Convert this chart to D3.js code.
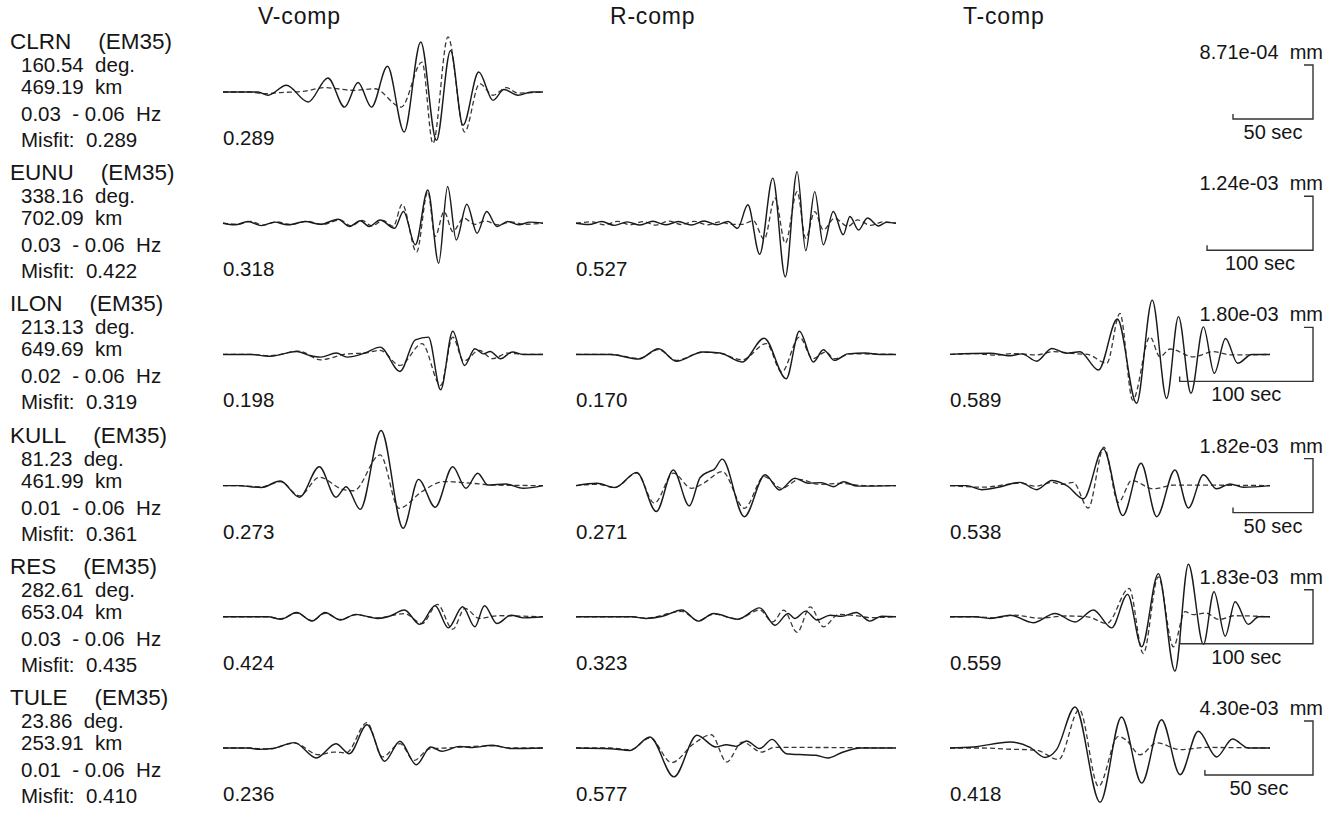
<!DOCTYPE html>
<html>
<head>
<meta charset="utf-8">
<script src="https://cdn.jsdelivr.net/npm/d3@7"></script>
<style>
  html, body { margin: 0; padding: 0; background: #fff; }
  svg { display: block; font-family: "Liberation Sans", Arial, Helvetica, sans-serif; }
  text { white-space: pre; fill: #151515; }
  .obs { fill: none; stroke: #1a1a1a; stroke-width: 1.45; }
  .syn { fill: none; stroke: #383838; stroke-width: 1.3; stroke-dasharray: 5 3; }
  .bar { fill: none; stroke: #333; stroke-width: 1.4; }
</style>
</head>
<body>
<div id="chart"></div>
<script>
const components = ["V-comp", "R-comp", "T-comp"];
const stations = ["CLRN", "EUNU", "ILON", "KULL", "RES", "TULE"];
const azimuths = ["160.54", "338.16", "213.13", "81.23", "282.61", "23.86"];
const distances = ["469.19", "702.09", "649.69", "461.99", "653.04", "253.91"];
const bandLow = ["0.03", "0.03", "0.02", "0.01", "0.03", "0.01"];
const bandHigh = ["0.06", "0.06", "0.06", "0.06", "0.06", "0.06"];
const misfits = ["0.289", "0.422", "0.319", "0.361", "0.435", "0.410"];
const panelMisfits = [
  ["0.289", null, null],
  ["0.318", "0.527", null],
  ["0.198", "0.170", "0.589"],
  ["0.273", "0.271", "0.538"],
  ["0.424", "0.323", "0.559"],
  ["0.236", "0.577", "0.418"],
];
const scaleAmps = ["8.71e-04", "1.24e-03", "1.80e-03", "1.82e-03", "1.83e-03", "4.30e-03"];
const scaleSecs = [50, 100, 100, 50, 100, 50];
const windowSecs = [200, 302, 240, 200, 240, 148];

// [time in % of window, amplitude in half scale-bar units]
const vObs = [
  [[0,0],[10.9,0],[14.1,-0.12],[19.8,0.25],[26.6,-0.37],[32.8,0.52],[38,-0.56],[42.2,0.35],[46.4,-0.56],[51.4,0.95],[56.6,-1.48],[61.8,1.85],[66.7,-1.79],[71.1,1.54],[75,-1.23],[79.9,0.74],[84.4,-0.31],[87.8,0.09],[92.2,-0.12],[96.4,0],[100,0]],
  [[0,0],[3.7,-0.06],[7.8,0.06],[12,-0.09],[16.1,0.04],[20.2,-0.06],[25.7,0.06],[30.5,-0.04],[36,0.15],[39.5,-0.12],[42.9,0.09],[45.7,-0.12],[49.1,0.12],[53.6,-0.19],[56.4,0.43],[60.1,-0.8],[64,1.23],[67.4,-1.48],[70.2,1.36],[72.9,-0.62],[76.2,0.7],[79.4,-0.37],[82.4,0.43],[85.6,-0.12],[89,0.06],[92.4,-0.06],[95.9,0.04],[100,0]],
  [[0,0],[8.5,0],[14.7,-0.07],[23,0.11],[27.1,-0.04],[30.5,-0.1],[35.4,0.05],[38.8,-0.1],[44.3,0.05],[49.1,0.27],[55.3,-0.63],[60.1,0.54],[64.2,0.64],[68,-1.31],[71.8,0.86],[75.5,-0.41],[78.7,0.21],[81.4,0.02],[83.5,0.11],[86.7,-0.16],[90.4,0.09],[93.8,0],[100,0]],
  [[0,0],[4.4,0],[12,-0.07],[17.9,0.17],[23.9,-0.43],[30.1,0.7],[35.3,-0.43],[38.5,-0.04],[42.9,-0.88],[49.4,2.04],[56.3,-1.58],[61.1,0.23],[66.3,-0.8],[71.8,0.7],[75.9,-0.1],[79.6,0.46],[82.8,0.02],[88.3,0.06],[93.8,-0.1],[100,0]],
  [[0,0],[14,0],[18.1,-0.09],[23,0.16],[27.8,-0.16],[31.9,0.16],[36.7,-0.12],[41.5,0.09],[48.4,-0.06],[52,0.02],[56.7,0.25],[61.5,-0.28],[66.3,0.41],[70.4,-0.41],[74.9,0.37],[78.7,-0.37],[81.7,0.41],[85.6,-0.25],[90,0.06],[94,-0.04],[100,0]],
  [[0,0],[8,0],[11.3,-0.05],[15.5,-0.02],[22.3,0.2],[29.2,-0.37],[35.3,0.16],[39.5,-0.21],[45,0.86],[50.5,-0.49],[55.3,0.25],[60.4,-0.62],[64.9,0.04],[68.4,-0.12],[74,0.06],[78,0.02],[84.2,0.1],[90,-0.02],[100,0]],
];
const vSyn = [
  [[0,0],[8,0],[13,-0.06],[18,-0.02],[25,0.02],[31.8,0.16],[41.1,0.06],[47.4,0.12],[55.7,-0.56],[62.2,1.11],[65.6,-1.91],[70.3,2.04],[75.5,-1.48],[80.2,0.31],[84.4,-0.12],[88.5,0.16],[92.2,-0.04],[100,0]],
  [[0,0],[4.5,-0.04],[8.5,0.07],[12.5,-0.07],[17,0.05],[21,-0.05],[26.5,0.07],[31,-0.05],[36.5,0.12],[40,-0.1],[43.5,0.1],[46.5,-0.1],[50,0.1],[53.2,-0.12],[56,0.7],[60.5,-1.07],[64,1.17],[66.3,-0.49],[69.1,0.43],[71.8,-0.31],[75.2,0.19],[78.7,-0.04],[82,0.08],[86,-0.06],[90,0.05],[94,-0.04],[100,0]],
  [[0,0],[8.5,0],[14.7,-0.05],[23.7,0.12],[30.5,-0.2],[38.8,0.02],[44.3,0.05],[49.1,0.15],[55.3,-0.41],[62.2,0.4],[68,-1.15],[71.8,0.64],[75.2,-0.25],[80.1,0.15],[84.2,-0.16],[89,0.05],[94,0],[100,0]],
  [[0,0],[4.4,0],[12,-0.05],[17.9,0.15],[23.9,-0.38],[30.1,0.31],[37.4,-0.14],[40.9,-0.19],[49.1,1.14],[55,-0.84],[62.2,-0.22],[69.1,0.15],[77.3,0.09],[85,0.02],[100,0]],
  [[0,0],[14,0],[18.1,-0.07],[23,0.14],[27.8,-0.14],[31.9,0.13],[36.7,-0.1],[41.5,0.07],[48.4,-0.04],[56.7,0.12],[62.2,-0.25],[67,0.46],[71.8,-0.46],[75.6,0.31],[80.1,-0.06],[86,0.04],[100,0]],
  [[0,0],[8,0],[14,-0.04],[22.3,0.18],[29.9,-0.25],[34.7,-0.15],[38.5,-0.18],[45,0.94],[49.8,-0.33],[55.3,0.16],[59.7,-0.46],[64.5,-0.03],[70,0],[84.2,0.08],[90,0],[100,0]],
];
const rObs = [
  null,
  [[0,0],[4,-0.05],[8,0.06],[12,-0.08],[16,0.05],[20,-0.07],[24,0.07],[28,-0.06],[32,0.06],[36,-0.07],[40,0.08],[44,-0.06],[47.5,0.06],[50.5,-0.19],[53.7,0.68],[57.4,-1.15],[61.5,1.67],[65.4,-1.99],[69.1,1.91],[71.8,-1.02],[74.6,1.17],[77.3,-0.8],[80.4,0.43],[83.5,-0.43],[85.6,0.25],[88.3,-0.25],[91.1,0.19],[94.5,-0.1],[97,0.03],[100,0]],
  [[0,0],[10.7,0],[19.6,-0.17],[25.8,0.21],[31.3,-0.25],[39.6,0.09],[45,0.05],[51.9,-0.28],[58.8,0.6],[65.7,-0.9],[69.8,0.86],[74.2,-0.28],[77.3,0.17],[80.8,-0.22],[84.9,0.02],[90.4,0.05],[95,0],[100,0]],
  [[0,0],[6.6,0.09],[12.1,-0.07],[19,0.49],[25.1,-0.96],[30.4,0.58],[35.4,-0.75],[38.8,0.3],[41.6,0.52],[43.2,0.6],[45.7,0.98],[52.6,-1.15],[59.1,0.4],[63.6,-0.16],[68.4,0.27],[72.5,0.09],[76.6,0.11],[80.5,-0.04],[83.5,0.14],[88,-0.02],[100,0]],
  [[0,0],[17.6,0],[21.7,-0.06],[27,0.02],[33.1,0.25],[38.2,-0.16],[43,0.12],[50.5,-0.09],[57.4,0.33],[62.2,-0.31],[66.3,0.12],[68.4,-0.06],[71.8,0.21],[75.3,-0.12],[79.4,0.06],[83,0.02],[87.6,0.16],[91.8,-0.16],[95.5,0.02],[100,0]],
  [[0,0],[10.7,-0.03],[16.9,-0.09],[23.1,0.41],[30.6,-1.07],[37.8,0.47],[43.7,0.04],[47,0.12],[50,0.06],[53.3,0.26],[57.4,-0.02],[61.3,0.32],[65.7,-0.21],[71.2,-0.25],[75,-0.27],[78.7,-0.37],[83.5,-0.15],[89,0],[100,0]],
];
const rSyn = [
  null,
  [[0,0],[5,0.05],[9,-0.06],[13,0.07],[17,-0.06],[21,0.06],[25,-0.07],[29,0.08],[33,-0.05],[37,0.07],[41,-0.06],[45,0.05],[48.5,-0.04],[51.9,-0.04],[55.4,0.09],[58.8,-0.6],[62.2,0.93],[65.4,-0.74],[69.1,1.17],[71.8,-0.56],[74.6,0.43],[77.3,-0.25],[80.8,0.19],[84.9,-0.12],[88,0.12],[92,-0.08],[96,0.05],[100,0]],
  [[0,0],[10.7,0],[19.6,-0.15],[25.8,0.18],[31.3,-0.22],[39.6,0.08],[45,0.04],[51.9,-0.2],[59.5,0.4],[64.3,-0.65],[69.8,0.64],[74,-0.16],[78,0.09],[80.8,-0.16],[86,0.02],[100,0]],
  [[0,0],[6.6,0.05],[12.1,-0.07],[19,0.46],[24.5,-0.65],[30.4,0.46],[36.1,-0.1],[40,0.1],[45.7,0.52],[52.6,-0.84],[58.8,0.33],[64.3,-0.1],[69.8,0.23],[76,0.05],[83,0.08],[90,0],[100,0]],
  [[0,0],[17.6,0],[21.7,-0.05],[33.1,0.2],[38.2,-0.14],[43,0.1],[50.5,-0.08],[57.4,0.25],[61.5,-0.19],[64.9,0.25],[69.1,-0.58],[73.2,0.37],[77.3,-0.37],[82.1,0.09],[87,0.05],[92,-0.03],[100,0]],
  [[0,0],[10.7,0],[16.9,-0.07],[23.1,0.37],[29.9,-0.54],[36.8,0.16],[42.3,0.49],[47.1,-0.52],[51.9,0.22],[58.1,-0.15],[62,0.02],[70,0.02],[100,0]],
];
const tObs = [
  null,
  null,
  [[0,0],[12.5,0.04],[18.8,-0.05],[22.5,0.02],[27.1,-0.25],[31.8,0.22],[36.5,0.04],[40.6,0.1],[46.4,-0.58],[52.3,1.31],[58.3,-1.81],[63.2,2.01],[67.7,-1.63],[71.4,1.4],[75.3,-1.44],[79.2,1.02],[82.6,-0.7],[86.1,0.59],[89.9,-0.33],[94.3,0],[100,0]],
  [[0,0],[5.2,0],[9.9,-0.15],[15.1,-0.06],[21.9,0.12],[27.1,-0.15],[31.8,0.19],[36.5,0],[41.7,-0.49],[47.9,1.36],[54,-1.11],[59.7,0.83],[64.6,-1.15],[70.3,0.58],[74.5,-0.83],[79.2,0.4],[83.3,-0.12],[87.5,0.06],[91.7,-0.06],[100,0]],
  [[0,0],[8,0],[12.5,-0.06],[18.8,0.06],[26,-0.22],[32.8,0.12],[39.1,-0.19],[44.8,0.25],[50.5,-0.41],[55.5,0.83],[59.9,-1.11],[65.1,1.6],[70.3,-2.01],[74.5,1.95],[79.2,-1.02],[82.5,0.93],[86,-0.72],[89.1,0.56],[93.2,-0.28],[96.5,0],[100,0]],
  [[0,0],[7.3,0.04],[18.8,0.22],[25,0.02],[29.7,-0.35],[33.3,-0.06],[39.1,1.52],[46.9,-2.01],[53.6,1.15],[59.9,-1.3],[66.1,1.05],[71.9,-0.99],[77.6,0.62],[83.3,-0.33],[88.3,0.33],[93.2,0],[100,0]],
];
const tSyn = [
  null,
  null,
  [[0,0],[8,0.03],[14,-0.03],[20,0.03],[27,-0.02],[32.3,0.1],[40,0.02],[43,0],[49,-0.33],[53.1,1.52],[57.1,-1.69],[62.5,0.65],[65.6,-0.09],[68.8,0.2],[76,-0.09],[82.3,0.1],[88,-0.02],[100,0]],
  [[0,0],[10.4,-0.06],[21.9,0.09],[27,-0.02],[31.8,0.12],[35,0.05],[38.5,0.12],[43.2,-0.83],[48.1,1.42],[52.6,-0.62],[56.8,0.19],[63.5,-0.12],[70,0.02],[100,0]],
  [[0,0],[8,0],[14,-0.04],[20,0.06],[28,-0.05],[36,0.03],[43,0],[49,-0.25],[56,1.05],[60.4,-1.36],[65.1,1.48],[69.8,-1.11],[73.4,0.19],[76,0.08],[80,0.14],[84,-0.1],[89,0.04],[100,0]],
  [[0,0],[10,0],[17.7,-0.04],[27,-0.08],[33.9,-0.43],[40.4,1.42],[46.4,-1.42],[52.6,0.43],[55,0.3],[59.4,-0.25],[64.6,0.19],[71.9,-0.06],[80,0.02],[100,0]],
];

const observed = [vObs, rObs, tObs];
const synthetic = [vSyn, rSyn, tSyn];

function renderWaveforms(root) {
  const width = 1343;
  const height = 813;
  const traceW = 320;
  const colX = [223, 576, 950];
  const headerX = [258, 610, 963];
  const rowTop = 92;
  const rowStep = 131.2;
  const halfBar = 27;
  const barRight = 1313;

  const svg = d3.select(root).append("svg").attr("width", width).attr("height", height);

  svg
    .append("g")
    .selectAll("text")
    .data(components)
    .join("text")
    .attr("x", (d, i) => headerX[i])
    .attr("y", 24)
    .attr("font-size", 23)
    .attr("letter-spacing", 0.8)
    .text((d) => d);

  const line = d3.line().curve(d3.curveMonotoneX);

  stations.forEach((name, i) => {
    const zero = rowTop + i * rowStep;
    const y = d3.scaleLinear().domain([-1, 1]).range([zero + halfBar, zero - halfBar]);
    const row = svg.append("g").attr("class", "station-row");

    // station block on the left
    const label = row.append("text").attr("x", 10).attr("y", zero - 43).attr("font-size", 22.5).text(name);
    label.append("tspan").attr("dx", 27).text("(EM35)");
    const info = [
      `${azimuths[i]}  deg.`,
      `${distances[i]}  km`,
      `${bandLow[i]}  - ${bandHigh[i]}  Hz`,
      `Misfit:  ${misfits[i]}`,
    ];
    const infoDy = [-20, 2, 29, 55];
    row
      .selectAll("text.info")
      .data(info)
      .join("text")
      .attr("class", "info")
      .attr("x", 21)
      .attr("y", (d, k) => zero + infoDy[k])
      .attr("font-size", 20.5)
      .text((d) => d);

    // traces
    components.forEach((c, j) => {
      const obs = observed[j][i];
      const syn = synthetic[j][i];
      if (!obs) return;
      const x = d3.scaleLinear().domain([0, 100]).range([colX[j], colX[j] + traceW]);
      line.x((d) => x(d[0])).y((d) => y(d[1]));
      row.append("path").datum(syn).attr("class", "syn").attr("d", line);
      row.append("path").datum(obs).attr("class", "obs").attr("d", line);
      row
        .append("text")
        .attr("x", colX[j])
        .attr("y", zero + 53)
        .attr("font-size", 20.5)
        .text(panelMisfits[i][j]);
    });

    // amplitude / time scale bar
    const sec = d3.scaleLinear().domain([0, windowSecs[i]]).range([0, traceW]);
    const barLeft = barRight - sec(scaleSecs[i]);
    const top = y(1);
    const bottom = y(-1);
    row
      .append("path")
      .attr("class", "bar")
      .attr("d", `M${barRight - 9},${top}H${barRight}V${bottom}H${barLeft}V${bottom - 5}`);
    row
      .append("text")
      .attr("x", barRight + 10)
      .attr("y", zero - 33)
      .attr("text-anchor", "end")
      .attr("font-size", 20)
      .text(`${scaleAmps[i]}  mm`);
    row
      .append("text")
      .attr("x", (barLeft + barRight) / 2)
      .attr("y", zero + 47)
      .attr("text-anchor", "middle")
      .attr("font-size", 20)
      .text(`${scaleSecs[i]} sec`);
  });
}

renderWaveforms(document.getElementById("chart"));
</script>
</body>
</html>
